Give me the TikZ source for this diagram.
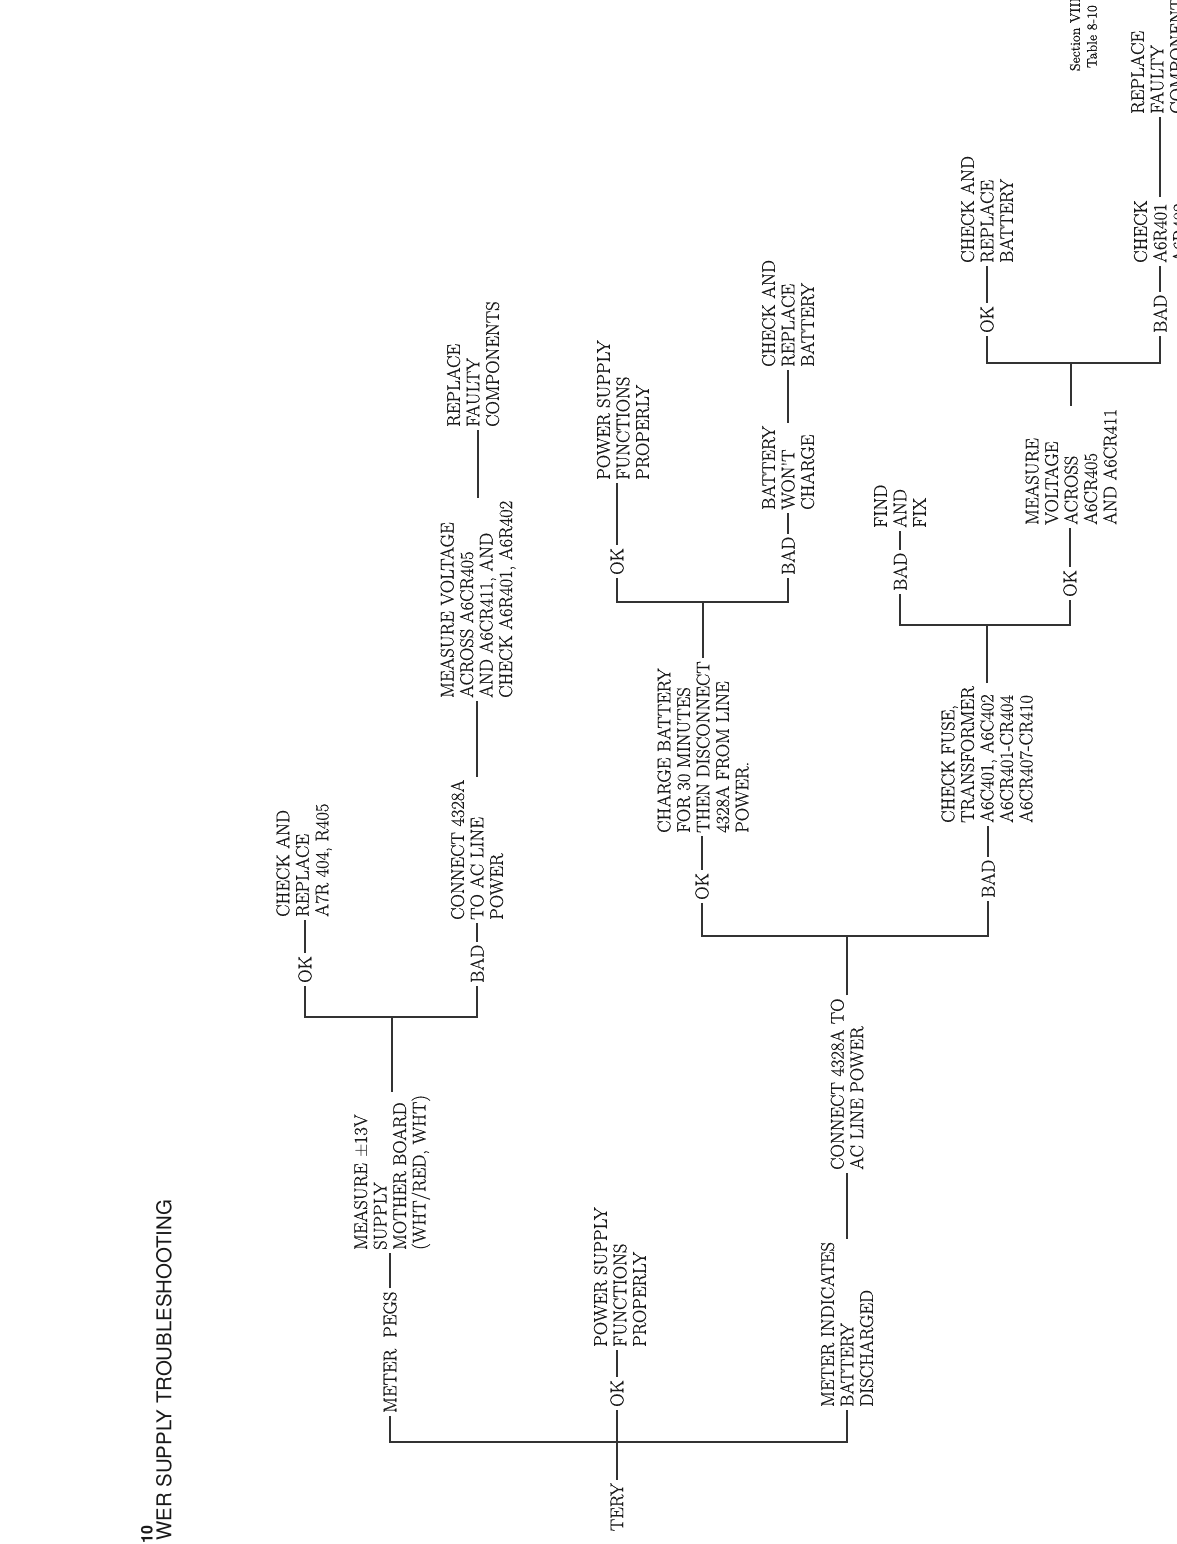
\documentclass[tikz,border=0pt]{standalone}
\usepackage{fontspec}
\usepackage{tikz}
\newfontfamily\headfont{TeX Gyre Heros}
\newfontfamily\typefont[FakeBold=0.6]{Latin Modern Roman}
\tikzset{
  ps_n/.style = {align=left, inner sep=3pt, anchor=west,
    font=\typefont\fontsize{18.5}{19.5}\selectfont, text=black!90},
  ps_t/.style = {ps_n},% step text
  ps_l/.style = {ps_n},% OK / BAD
  ps_h/.style = {inner sep=0pt, text=black!90},% page heading
  ps_w/.style = {line width=2.6pt, black!80}% connector
}

\begin{document}
\begin{tikzpicture}[x=1pt,y=1pt]
\begin{scope}[rotate=90,transform shape]
\useasboundingbox (0,0) rectangle (1544,-1176);
% heading
\node (tno) [ps_h, anchor=west, font=\headfont\bfseries\fontsize{16}{16}\selectfont] at (0,-147) {10};
\node (title) [ps_h, anchor=west, font=\headfont\fontsize{20.4}{24}\selectfont] at (3,-164) {WER SUPPLY TROUBLESHOOTING};
\node (sec) [ps_h, anchor=east, font=\typefont\fontsize{14}{16}\selectfont] at (1547,-1075) {Section VIII};
\node (tab) [ps_h, anchor=east, font=\typefont\fontsize{14}{16}\selectfont] at (1539,-1092) {Table 8-10};
%
% first split
\node (tery) [ps_t, anchor=east] at (64,-617) {TERY};
\coordinate (j0) at (102,-617);
\node (pegs) [ps_t] at (128,-390) {METER\ \ PEGS};
\node (okA) [ps_l] at (134,-617) {OK};
\node (mib) [ps_t] at (134,-847) {METER INDICATES\\BATTERY\\DISCHARGED};
\node (psA) [ps_t] at (194,-620) {POWER SUPPLY\\FUNCTIONS\\PROPERLY};
\draw[ps_w] (tery.east) -- (j0) -- (okA.west);
\draw[ps_w] (pegs.west) -| (j0) |- (mib.west);
\draw[ps_w] (okA.east) -- (okA.east -| psA.west);
%
% meter pegs
\node (m13) [ps_t] at (291,-392) {MEASURE $\pm$13V\\SUPPLY\\MOTHER BOARD\\(WHT/RED, WHT)};
\coordinate (j1) at (527,-392);
\node (okB1) [ps_l] at (558,-305) {OK};
\node (badB1) [ps_l] at (558,-477) {BAD};
\node (car) [ps_t] at (624,-304) {CHECK AND\\REPLACE\\A7R 404, R405};
\node (c43) [ps_t] at (621,-477) {CONNECT 4328A\\TO AC LINE\\POWER};
\node (mv) [ps_t] at (843,-478) {MEASURE VOLTAGE\\ACROSS A6CR405\\AND A6CR411, AND\\CHECK A6R401, A6R402};
\node (rfc) [ps_t] at (1114,-473) {REPLACE\\FAULTY\\COMPONENTS};
\draw[ps_w] (pegs.east) -- (pegs.east -| m13.west);
\draw[ps_w] (m13.east) -- (j1);
\draw[ps_w] (okB1.west) -| (j1) |- (badB1.west);
\draw[ps_w] (okB1.east) -- (okB1.east -| car.west);
\draw[ps_w] (badB1.east) -- (badB1.east -| c43.west);
\draw[ps_w] (c43.east) -- (c43.east -| mv.west);
\draw[ps_w] (mv.east) -- (mv.east -| rfc.west);
%
% battery discharged
\node (cta) [ps_t] at (371,-847) {CONNECT 4328A TO\\AC LINE POWER};
\coordinate (j2) at (608,-847);
\node (okB2) [ps_l] at (641,-702) {OK};
\node (badB2) [ps_l] at (643,-988) {BAD};
\node (chb) [ps_t] at (708,-703) {CHARGE BATTERY\\FOR 30 MINUTES\\THEN DISCONNECT\\4328A FROM LINE\\POWER.};
\node (cfu) [ps_t] at (718,-987) {CHECK FUSE,\\TRANSFORMER\\A6C401, A6C402\\A6CR401-CR404\\A6CR407-CR410};
\draw[ps_w] (mib.east) -- (mib.east -| cta.west);
\draw[ps_w] (cta.east) -- (j2);
\draw[ps_w] (okB2.west) -| (j2) |- (badB2.west);
\draw[ps_w] (okB2.east) -- (okB2.east -| chb.west);
\draw[ps_w] (badB2.east) -- (badB2.east -| cfu.west);
%
% after charging
\coordinate (j3) at (942,-703);
\node (okB3) [ps_l] at (966,-617) {OK};
\node (badB3) [ps_l] at (966,-788) {BAD};
\node (psB) [ps_t] at (1061,-623) {POWER SUPPLY\\FUNCTIONS\\PROPERLY};
\node (bwc) [ps_t] at (1031,-788) {BATTERY\\WON'T\\CHARGE};
\node (carB) [ps_t] at (1174,-788) {CHECK AND\\REPLACE\\BATTERY};
\draw[ps_w] (chb.east) -- (j3);
\draw[ps_w] (okB3.west) -| (j3) |- (badB3.west);
\draw[ps_w] (okB3.east) -- (okB3.east -| psB.west);
\draw[ps_w] (badB3.east) -- (badB3.east -| bwc.west);
\draw[ps_w] (bwc.east) -- (bwc.east -| carB.west);
%
% fuse and transformer
\coordinate (j4) at (919,-987);
\node (badB4) [ps_l] at (950,-900) {BAD};
\node (okB4) [ps_l] at (944,-1070) {OK};
\node (faf) [ps_t] at (1013,-900) {FIND\\AND\\FIX};
\node (mva) [ps_t] at (1016,-1071) {MEASURE\\VOLTAGE\\ACROSS\\A6CR405\\AND A6CR411};
\draw[ps_w] (cfu.east) -- (j4);
\draw[ps_w] (badB4.west) -| (j4) |- (okB4.west);
\draw[ps_w] (badB4.east) -- (badB4.east -| faf.west);
\draw[ps_w] (okB4.east) -- (okB4.east -| mva.west);
%
% last voltage check
\coordinate (j5) at (1181,-1071);
\node (okB5) [ps_l] at (1208,-987) {OK};
\node (badB5) [ps_l] at (1208,-1160) {BAD};
\node (carC) [ps_t] at (1278,-987) {CHECK AND\\REPLACE\\BATTERY};
\node (cka) [ps_t] at (1278,-1160) {CHECK\\A6R401\\A6R402};
\node (rfcB) [ps_t] at (1427,-1157) {REPLACE\\FAULTY\\COMPONENTS};
\draw[ps_w] (mva.east) -- (j5);
\draw[ps_w] (okB5.west) -| (j5) |- (badB5.west);
\draw[ps_w] (okB5.east) -- (okB5.east -| carC.west);
\draw[ps_w] (badB5.east) -- (badB5.east -| cka.west);
\draw[ps_w] (cka.east) -- (cka.east -| rfcB.west);
\end{scope}
\end{tikzpicture}
\end{document}
